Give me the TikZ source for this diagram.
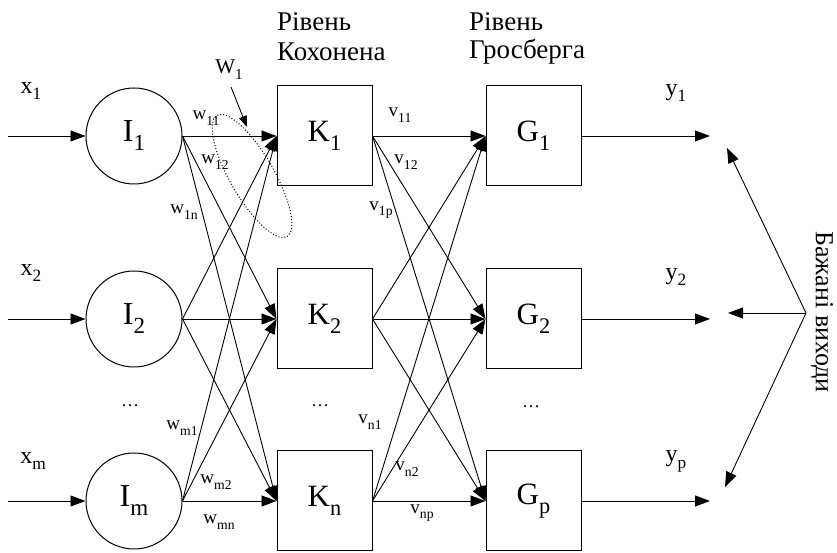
\documentclass[tikz,border=0pt]{standalone}
\usepackage{fontspec}
\setmainfont{Liberation Serif}
\usetikzlibrary{arrows.meta}
\newcommand{\sbs}[1]{\raisebox{-0.28em}{\scalebox{0.72}{#1}}}
\begin{document}
\begin{tikzpicture}[x=1pt,y=1pt,
  neuron/.style={circle,draw,line width=1pt,minimum size=96pt,inner sep=0pt,font=\fontsize{32}{34}\selectfont},
  unit/.style={rectangle,draw,line width=1pt,minimum width=95pt,minimum height=100pt,inner sep=0pt,font=\fontsize{31}{34}\selectfont},
  conn/.style={line width=0.9pt,-{Triangle[length=15pt,width=11pt]}},
  wlab/.style={font=\fontsize{19}{21}\selectfont,inner sep=0pt},
  iolab/.style={font=\fontsize{24}{26}\selectfont,inner sep=0pt},
  head/.style={font=\fontsize{27}{30}\selectfont,anchor=west,inner sep=0pt},
  dotlab/.style={font=\fontsize{18}{20}\selectfont,inner sep=0pt},
]
\useasboundingbox (0,0) rectangle (837,553);

% headers
\node[head] (hk1) at (277,531) {Рівень};
\node[head] (hk2) at (277,501) {Кохонена};
\node[head] (hg1) at (469,531) {Рівень};
\node[head] (hg2) at (469,501) {Гросберга};

% input neurons
\node[neuron] (I1) at (134,417) {I\sbs{1}};
\node[neuron] (I2) at (134,234) {I\sbs{2}};
\node[neuron] (Im) at (134,52) {I\sbs{m}};

% Kohonen layer
\node[unit] (K1) at (324.5,417) {K\sbs{1}};
\node[unit] (K2) at (324.5,234) {K\sbs{2}};
\node[unit] (Kn) at (324.5,52) {K\sbs{n}};

% Grossberg layer
\node[unit] (G1) at (533.5,417) {G\sbs{1}};
\node[unit] (G2) at (533.5,234) {G\sbs{2}};
\node[unit] (Gp) at (533.5,52) {G\sbs{p}};

% input arrows
\coordinate (s1) at (8,417);
\coordinate (s2) at (8,234);
\coordinate (sm) at (8,52);
\draw[conn] (s1) -- (I1);
\draw[conn] (s2) -- (I2);
\draw[conn] (sm) -- (Im);
\node[iolab] (x1) at (31,462) {x\sbs{1}};
\node[iolab] (x2) at (31,280) {x\sbs{2}};
\node[iolab] (xm) at (33,92) {x\sbs{m}};

% I -> K
\foreach \i in {I1,I2,Im}{
  \foreach \k in {K1,K2,Kn}{
    \draw[conn] (\i.east) -- (\k.west);
  }
}
% K -> G
\foreach \k in {K1,K2,Kn}{
  \foreach \g in {G1,G2,Gp}{
    \draw[conn] (\k.east) -- (\g.west);
  }
}

% outputs
\coordinate (o1) at (710,417);
\coordinate (o2) at (710,234);
\coordinate (op) at (710,52);
\draw[conn] (G1.east) -- (o1);
\draw[conn] (G2.east) -- (o2);
\draw[conn] (Gp.east) -- (op);
\node[iolab] (y1) at (676,460) {y\sbs{1}};
\node[iolab] (y2) at (676,276) {y\sbs{2}};
\node[iolab] (yp) at (676,92) {y\sbs{p}};

% desired outputs
\coordinate (d) at (806,240);
\coordinate (d1) at (727,405);
\coordinate (d2) at (728,240);
\coordinate (d3) at (725,66);
\draw[conn] (d) -- (d1);
\draw[conn] (d) -- (d2);
\draw[conn] (d) -- (d3);
\node[rotate=-90,font=\fontsize{26}{28}\selectfont,inner sep=0pt] (des) at (822,241) {Бажані виходи};

% weight labels
\node[wlab] (w11) at (206,435) {w\sbs{11}};
\node[wlab] (w12) at (215,391) {w\sbs{12}};
\node[wlab] (w1n) at (184,341) {w\sbs{1n}};
\node[wlab] (wm1) at (182,125) {w\sbs{m1}};
\node[wlab] (wm2) at (216,71) {w\sbs{m2}};
\node[wlab] (wmn) at (219,31) {w\sbs{mn}};
\node[wlab] (v11) at (400,438) {v\sbs{11}};
\node[wlab] (v12) at (406,391) {v\sbs{12}};
\node[wlab] (v1p) at (381,343) {v\sbs{1p}};
\node[wlab] (vn1) at (370,131) {v\sbs{n1}};
\node[wlab] (vn2) at (407,84) {v\sbs{n2}};
\node[wlab] (vnp) at (422,40) {v\sbs{np}};

% W1 group
\node[font=\fontsize{21}{23}\selectfont,inner sep=0pt] (W1) at (229,483) {W\sbs{1}};
\coordinate (w1tip) at (247,426);
\draw[line width=0.9pt,-{Triangle[length=11pt,width=8pt]}] ([shift={(2,-7)}]W1.south) -- (w1tip);
\draw[dotted,line width=1pt,rotate around={-60:(252,377)}] (252,377) ellipse [x radius=70,y radius=22];

% dots
\node[dotlab] (dI) at (130,147) {\ldots};
\node[dotlab] (dK) at (320,147) {\ldots};
\node[dotlab] (dG) at (531,146) {\ldots};
\end{tikzpicture}
\end{document}
